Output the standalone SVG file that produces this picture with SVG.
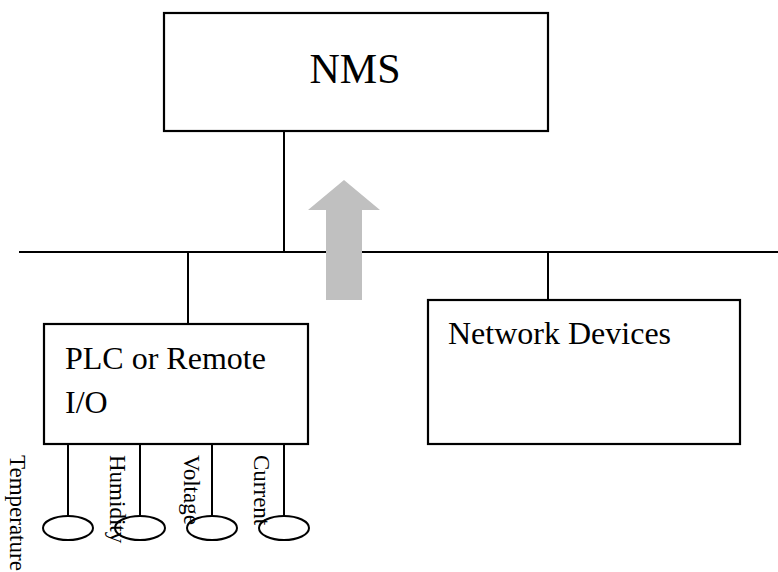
<svg xmlns="http://www.w3.org/2000/svg" width="778" height="572" viewBox="0 0 778 572">
<style>
.box{fill:#fff;stroke:#000;stroke-width:2.2}
.ln{stroke:#000;stroke-width:2;fill:none}
.t{font-family:"Liberation Serif","Times New Roman",serif;fill:#000}
.s{font-family:"Liberation Serif","Times New Roman",serif;font-size:23px;fill:#000}
.sensor{fill:#fff;stroke:#000;stroke-width:2}
</style>
<rect width="778" height="572" fill="#fff"/>
<g id="connectors">
<line class="ln" x1="19" y1="252" x2="778" y2="252"/>
<line class="ln" x1="284" y1="131" x2="284" y2="252"/>
<line class="ln" x1="188" y1="252" x2="188" y2="324"/>
<line class="ln" x1="548" y1="252" x2="548" y2="300"/>
<line class="ln" x1="68" y1="444" x2="68" y2="516"/>
<line class="ln" x1="140" y1="444" x2="140" y2="516"/>
<line class="ln" x1="212" y1="444" x2="212" y2="516"/>
<line class="ln" x1="284" y1="444" x2="284" y2="516"/>
</g>
<g id="arrow">
<polygon points="344,180 380,210 362,210 362,300 326,300 326,210 308,210" fill="#c0c0c0"/>
</g>
<g id="nms">
<rect class="box" x="164" y="13" width="384" height="118"/>
<text class="t" x="355" y="83" font-size="42" text-anchor="middle">NMS</text>
</g>
<g id="plc">
<rect class="box" x="44" y="324" width="264" height="120"/>
<text class="t" x="65" y="369" font-size="32">PLC or Remote</text>
<text class="t" x="65" y="413" font-size="32">I/O</text>
</g>
<g id="network-devices">
<rect class="box" x="428" y="300" width="312" height="144"/>
<text class="t" x="448" y="344" font-size="32">Network Devices</text>
</g>
<g id="sensor-temperature">
<ellipse class="sensor" cx="68" cy="528" rx="25" ry="12"/>
<text class="s" transform="translate(10,455) rotate(90)">Temperature</text>
</g>
<g id="sensor-humidity">
<ellipse class="sensor" cx="140" cy="528" rx="25" ry="12"/>
<text class="s" transform="translate(110,455) rotate(90)">Humidity</text>
</g>
<g id="sensor-voltage">
<ellipse class="sensor" cx="212" cy="528" rx="25" ry="12"/>
<text class="s" transform="translate(184,455) rotate(90)">Voltage</text>
</g>
<g id="sensor-current">
<ellipse class="sensor" cx="284" cy="528" rx="25" ry="12"/>
<text class="s" transform="translate(254,455) rotate(90)">Current</text>
</g>
</svg>
